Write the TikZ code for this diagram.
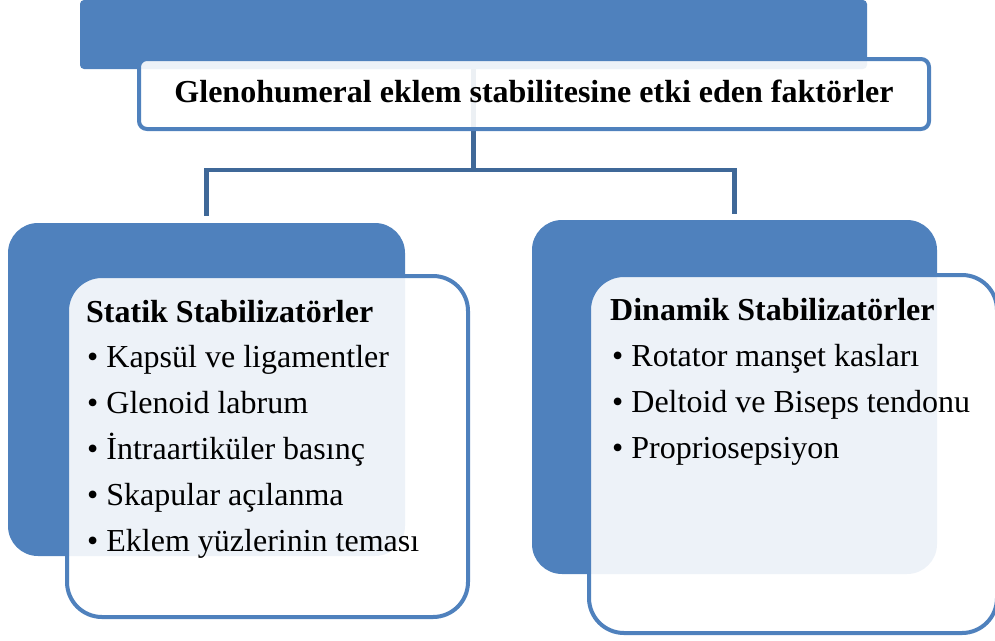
\documentclass[tikz,border=0pt]{standalone}
\usepackage{fontspec}
\setmainfont{Liberation Serif}
\usepackage{tikz}
\definecolor{accent}{HTML}{4F81BD}
\definecolor{linkblue}{HTML}{3F6898}
\tikzstyle{backbox} = [rectangle, rounded corners=30pt, fill=accent, inner sep=0pt]
\tikzstyle{frontbox} = [rectangle, rounded corners=35pt, draw=accent, line width=4pt, fill=white, fill opacity=0.9, inner sep=0pt]
\tikzstyle{linkline} = [draw=linkblue, line width=4.5pt]
\tikzstyle{heading} = [font=\bfseries\fontsize{32}{38}\selectfont, anchor=base west, inner sep=0pt]
\tikzstyle{listitem} = [font=\fontsize{32}{38}\selectfont, anchor=base west, inner sep=0pt]

\begin{document}
\begin{tikzpicture}[x=1pt, y=-1pt]
\useasboundingbox (0,0) rectangle (995,640);
\node (topblue) [backbox, rounded corners=4pt, minimum width=787pt, minimum height=69pt] at (473.5,34.5) {};
\node (lback) [backbox, minimum width=397pt, minimum height=333pt] at (206.5,389.5) {};
\node (rback) [backbox, minimum width=405pt, minimum height=354pt] at (734.5,397) {};

\draw[linkline, shorten >=7pt] (topblue.south) -- ++(0,101) -| (lback.north);
\draw[linkline, shorten >=6pt] (topblue.south) -- ++(0,101) -| (rback.north);

\node (title) [frontbox, rounded corners=8pt, minimum width=790pt, minimum height=70pt] at (534,94) {};
\node (titletext) [heading, anchor=base] at (534,102) {Glenohumeral eklem stabilitesine etki eden faktörler};

\node (lfront) [frontbox, minimum width=401pt, minimum height=341pt] at (267.5,446.5) {};
\node (rfront) [frontbox, minimum width=408pt, minimum height=358pt] at (793,454) {};

% static side
\node (lhead) [heading] at (86,322) {Statik Stabilizatörler};
\foreach \txt [count=\i] in {Kapsül ve ligamentler, Glenoid labrum, İntraartiküler basınç, Skapular açılanma, Eklem yüzlerinin teması}
  \node (litem\i) [listitem] at (87,{321+46*\i}) {\textbullet\ \txt};

% dynamic side
\node (rhead) [heading] at (610,320) {Dinamik Stabilizatörler};
\foreach \txt [count=\i] in {Rotator manşet kasları, Deltoid ve Biseps tendonu, Propriosepsiyon}
  \node (ritem\i) [listitem] at (612,{320+46*\i}) {\textbullet\ \txt};
\end{tikzpicture}
\end{document}
